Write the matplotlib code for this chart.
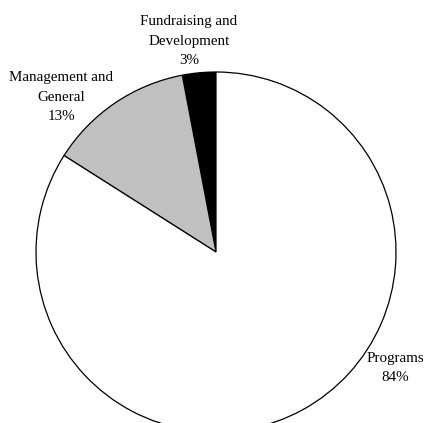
import matplotlib
matplotlib.use("Agg")
from matplotlib import pyplot as plt

## data
categories = ["Fundraising and\nDevelopment", "Management and\nGeneral", "Programs"]
shares = [3, 13, 84]
colours = ["#000000", "#c0c0c0", "#ffffff"]

## label anchor points (pixel coords, y from top)
label_pos = [(189, 41), (61, 97), (395, 368)]

W, H = 425, 423

fig = plt.figure(figsize=(W / 100, H / 100), dpi=100)
ax = fig.add_axes([0, 0, 1, 1])

ax.pie(shares, colors=colours, startangle=90, counterclock=True,
       center=(216, H - 252), radius=180, frame=True,
       wedgeprops=dict(edgecolor="black", linewidth=0.9))
ax.set_xlim(0, W)
ax.set_ylim(0, H)
ax.set_aspect("equal")
ax.axis("off")

for name, val, (x, y) in zip(categories, shares, label_pos):
    ax.text(x, H - y, "{}\n{}%".format(name, val), ha="center", va="center",
            family=["Liberation Serif", "DejaVu Serif"], fontsize=10.8,
            linespacing=1.68)

fig.savefig("out.png", dpi=100)
